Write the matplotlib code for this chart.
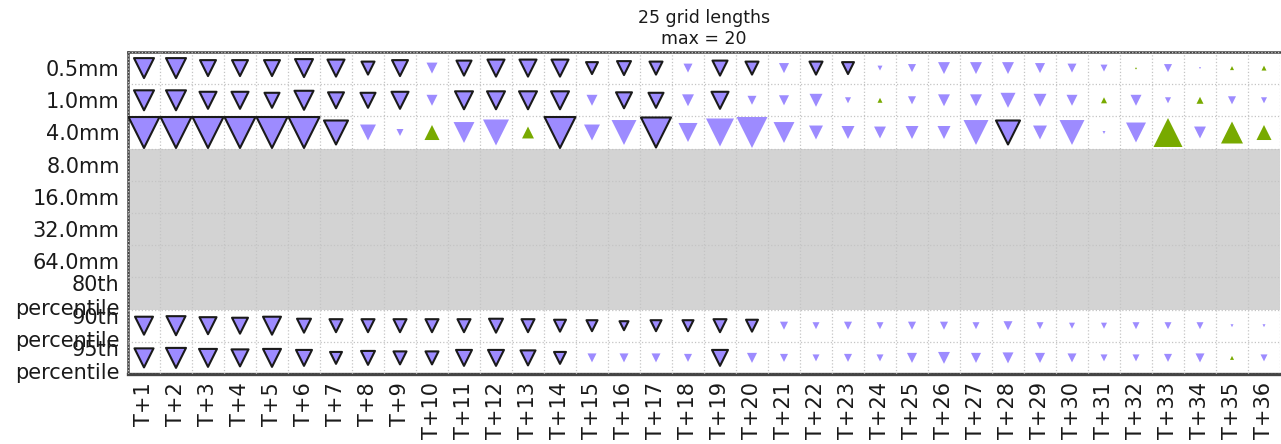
import matplotlib
matplotlib.use("Agg")
import matplotlib.pyplot as plt
import numpy as np


leads = ["T+%d" % i for i in range(1, 37)]
rows = ["0.5mm", "1.0mm", "4.0mm", "8.0mm", "16.0mm", "32.0mm", "64.0mm",
        "80th\npercentile", "90th\npercentile", "95th\npercentile"]
max_val = 20

# signed values: negative -> purple down, positive -> green up
v_05mm = [-12.9, -12.9, -10.3, -10.3, -10.3, -11.6, -11.0, -8.4, -10.3, -7.1,
          -9.7, -11.0, -11.0, -11.0, -7.7, -9.0, -8.4, -5.8, -9.7, -8.4,
          -6.5, -8.4, -7.7, -3.2, -5.2, -7.7, -7.7, -7.7, -6.5, -5.8,
          -4.5, 1.3, -5.2, -1.3, 2.6, 3.2]
v_10mm = [-12.9, -12.9, -11.0, -11.0, -9.7, -12.3, -10.3, -9.7, -11.0, -7.1,
          -11.6, -11.6, -11.6, -11.6, -7.1, -10.3, -9.7, -7.7, -11.0, -5.8,
          -6.5, -8.4, -3.9, 3.2, -5.2, -7.7, -7.7, -9.7, -8.4, -7.1,
          3.9, -7.1, -3.9, 4.5, -5.2, -3.9]
v_40mm = [-20, -20, -20, -20, -20, -20, -15.5, -10.3, -4.5, 9.7,
          -13.5, -16.8, 7.7, -20, -10.3, -16.1, -19.4, -12.3, -18.1, -20,
          -13.5, -9.0, -8.4, -7.7, -8.4, -8.4, -16.1, -15.5, -9.0, -16.1,
          -1.9, -12.9, 18.7, -7.7, 14.2, 9.7]
v_90th = [-11.6, -12.3, -11.0, -10.3, -11.6, -9.0, -8.4, -8.4, -8.4, -8.4,
          -8.4, -9.0, -8.4, -7.7, -7.1, -5.8, -7.1, -7.1, -8.4, -7.7,
          -5.2, -4.5, -5.2, -4.5, -5.2, -5.2, -4.5, -5.8, -4.5, -3.9,
          -3.9, -4.5, -4.5, -4.5, -1.9, -1.9]
v_95th = [-12.3, -12.9, -11.6, -11.0, -11.6, -10.3, -7.7, -9.0, -8.4, -8.4,
          -10.3, -10.3, -9.7, -7.7, -5.8, -5.8, -5.8, -5.2, -10.3, -6.5,
          -5.2, -4.5, -5.2, -4.5, -6.5, -7.7, -6.5, -7.1, -6.5, -5.8,
          -4.5, -4.5, -5.2, -5.8, 2.6, -4.5]

# significant cells (drawn with black edge), by lead number
sig_05mm = [1, 2, 3, 4, 5, 6, 7, 8, 9, 11, 12, 13, 14, 15, 16, 17, 19, 20, 22, 23]
sig_10mm = [1, 2, 3, 4, 5, 6, 7, 8, 9, 11, 12, 13, 14, 16, 17, 19]
sig_40mm = [1, 2, 3, 4, 5, 6, 7, 14, 17, 28]
sig_90th = list(range(1, 21))
sig_95th = list(range(1, 15)) + [19]

data_rows = {0: (v_05mm, sig_05mm), 1: (v_10mm, sig_10mm), 2: (v_40mm, sig_40mm),
             8: (v_90th, sig_90th), 9: (v_95th, sig_95th)}
missing_rows = [3, 4, 5, 6, 7]

purple = "#9d8bff"
green = "#78aa00"
max_ms = 22.3  # marker size (pt) for max_val

fig = plt.figure(figsize=(12.81, 4.44), dpi=100)
ax = fig.add_axes([128 / 1281, 1 - 374 / 444, 1152 / 1281, 322 / 444])

for r in missing_rows:
    ax.axhspan(r - 0.5, r + 0.5, color="#d3d3d3", lw=0, zorder=1)

for r, (vals, sig) in data_rows.items():
    vals = np.array(vals)
    x = np.arange(len(vals))
    ms = np.abs(vals) / max_val * max_ms
    is_sig = np.isin(x + 1, sig)
    for up in (False, True):
        for s in (False, True):
            m = ((vals > 0) == up) & (is_sig == s)
            if not m.any():
                continue
            ax.scatter(x[m], np.full(m.sum(), r), s=ms[m] ** 2,
                       marker="^" if up else "v",
                       c=green if up else purple,
                       edgecolors="#1a1a1a" if s else "none",
                       linewidths=1.5 if s else 0, zorder=3)

ax.set_xlim(-0.5, len(leads) - 0.5)
ax.set_ylim(len(rows) - 0.5, -0.5)
ax.set_xticks(np.arange(len(leads)))
ax.set_xticklabels(leads, rotation=90, fontsize=15)
ax.set_yticks(np.arange(len(rows)))
ax.set_yticklabels(rows, fontsize=15)
ax.tick_params(length=0, pad=6, colors="#1a1a1a")
ax.set_xticks(np.arange(-0.5, len(leads)), minor=True)
ax.set_yticks(np.arange(-0.5, len(rows)), minor=True)
ax.tick_params(which="minor", length=0)
ax.grid(which="minor", color="#c4c4c4", linestyle=":", lw=0.9, zorder=2)
ax.set_axisbelow(False)
for sp in ax.spines.values():
    sp.set_color("#444444")
    sp.set_linewidth(1.8)
ax.spines["right"].set_visible(False)
ax.spines["bottom"].set_linewidth(2.4)

ax.set_title("25 grid lengths\nmax = 20", fontsize=12.5, pad=6, color="#1a1a1a")

fig.savefig("out.png", dpi=100)
